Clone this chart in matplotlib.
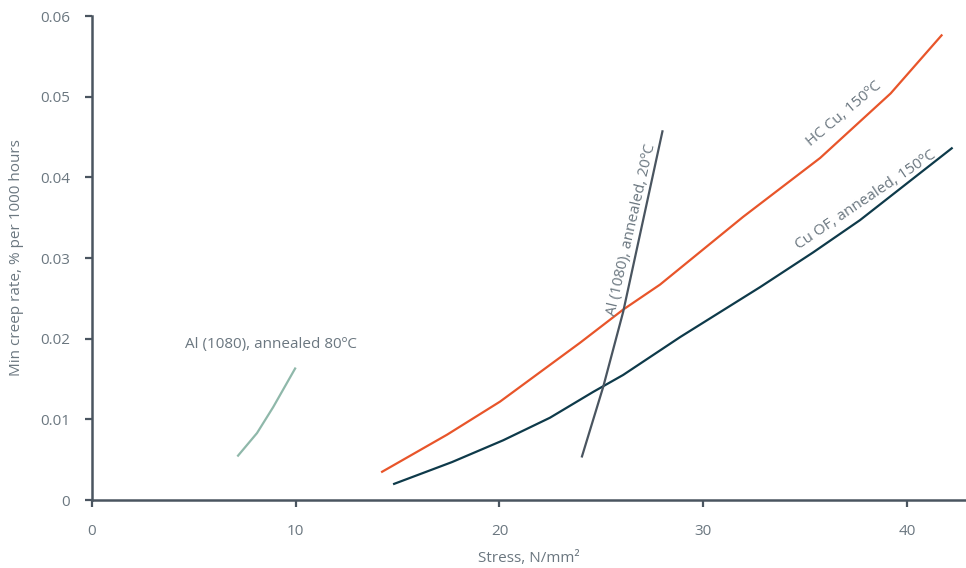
import matplotlib
matplotlib.use("Agg")
import matplotlib.pyplot as plt

al80_x = [7.17, 8.1, 8.89, 9.97]
al80_y = [0.0055, 0.0083, 0.0115, 0.0163]

hccu_x = [14.24, 17.43, 20.03, 23.96, 26.07, 27.88, 31.96, 35.74, 39.2, 41.7]
hccu_y = [0.0035, 0.0081, 0.0122, 0.0195, 0.0236, 0.0267, 0.0351, 0.0424, 0.0504, 0.0576]

cuof_x = [14.83, 17.67, 20.18, 22.48, 24.6, 26.07, 28.87, 32.8, 35.4, 37.7, 42.2]
cuof_y = [0.0020, 0.0047, 0.0074, 0.0102, 0.0134, 0.0155, 0.0202, 0.0264, 0.0307, 0.0347, 0.0436]

al20_x = [24.05, 25.09, 26.07, 28.0]
al20_y = [0.0054, 0.0140, 0.0233, 0.0457]

xticks = [0, 10, 20, 30, 40]
yticks = [0, 0.01, 0.02, 0.03, 0.04, 0.05, 0.06]
ytick_labels = ["0", "0.01", "0.02", "0.03", "0.04", "0.05", "0.06"]

plt.rcParams['font.family'] = ['Open Sans', 'DejaVu Sans']
fs = 11
txt = '#6b7780'
spine = '#4a5560'

fig = plt.figure(figsize=(9.66, 5.68), dpi=100)
ax = fig.add_axes([92/966, 1-500/568, 1-92/966, (500-16)/568])

ax.plot(al80_x, al80_y, color='#8fb8aa', lw=1.6)
ax.plot(hccu_x, hccu_y, color='#e8552a', lw=1.6)
ax.plot(cuof_x, cuof_y, color='#0e3a4a', lw=1.6)
ax.plot(al20_x, al20_y, color='#4a5560', lw=1.6)

ax.set_xlim(0, 42.9)
ax.set_ylim(0, 0.06)
ax.set_xticks(xticks)
ax.set_xticklabels([str(v) for v in xticks])
ax.set_yticks(yticks)
ax.set_yticklabels(ytick_labels)

for s in ['top', 'right']:
    ax.spines[s].set_visible(False)
for s in ['left', 'bottom']:
    ax.spines[s].set_color(spine)
    ax.spines[s].set_linewidth(1.8)
ax.tick_params(axis='both', colors=spine, labelcolor=txt, labelsize=fs,
               length=5, width=1.6, direction='out')
ax.tick_params(axis='x', pad=12)
ax.tick_params(axis='y', pad=11)

ax.set_xlabel('Stress, N/mm²', color=txt, fontsize=fs, labelpad=9)
ax.set_ylabel('Min creep rate, % per 1000 hours', color=txt, fontsize=fs, labelpad=11)

ax.text(8.8, 0.0183, 'Al (1080), annealed 80ºC', color=txt, fontsize=fs,
        ha='center', va='bottom')
ax.text(26.5, 0.0335, 'Al (1080), annealed, 20ºC', color=txt, fontsize=fs,
        ha='center', va='center', rotation=77)
ax.text(36.9, 0.0478, 'HC Cu, 150ºC', color=txt, fontsize=fs,
        ha='center', va='center', rotation=40)
ax.text(38.0, 0.0372, 'Cu OF, annealed, 150ºC', color=txt, fontsize=fs,
        ha='center', va='center', rotation=34)

fig.savefig('out.png', dpi=100)
